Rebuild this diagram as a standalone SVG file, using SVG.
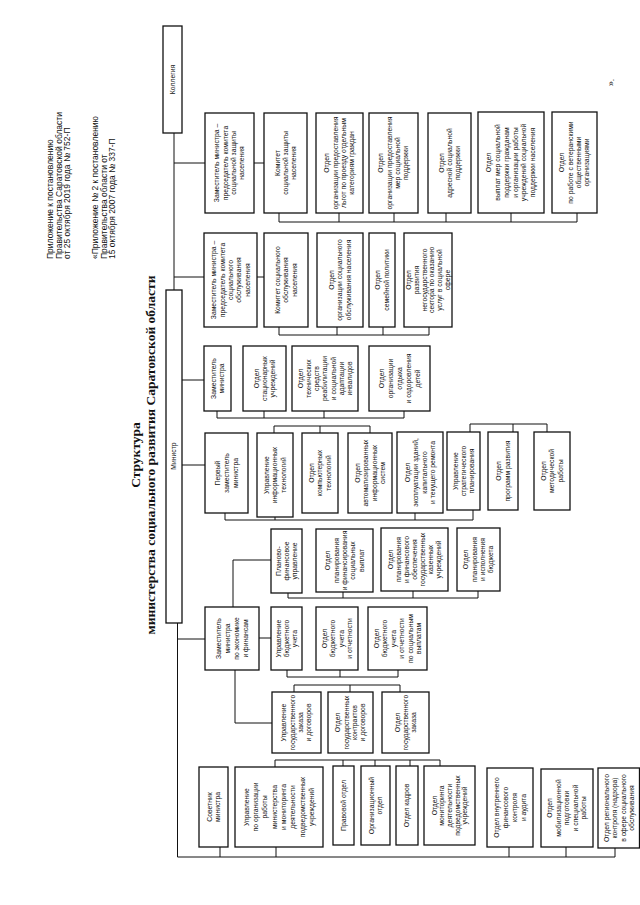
<svg xmlns="http://www.w3.org/2000/svg" width="640" height="905" viewBox="0 0 640 905">
<style>
.bg{fill:#fff}
.box{fill:#fff;stroke:#111;stroke-width:1.3}
.t{font-family:"Liberation Sans",Arial,sans-serif;font-size:6.8px;text-anchor:middle;fill:#111}
.h{font-family:"Liberation Sans",Arial,sans-serif;font-size:8.5px;fill:#111}
.ttl{font-family:"Liberation Serif","Times New Roman",serif;font-size:13.5px;font-weight:bold;text-anchor:middle;fill:#111}
.conn path{fill:none;stroke:#111;stroke-width:1}
</style>
<rect class="bg" x="0" y="0" width="640" height="905"/>

<g id="header">
<text class="h" transform="translate(53,259) rotate(-90)">Приложение к постановлению</text>
<text class="h" transform="translate(61.5,259) rotate(-90)">Правительства Саратовской области</text>
<text class="h" transform="translate(70,259) rotate(-90)">от 25 октября 2019 года № 752-П</text>
<text class="h" transform="translate(98,259) rotate(-90)">«Приложение № 2 к постановлению</text>
<text class="h" transform="translate(106.5,259) rotate(-90)">Правительства области от</text>
<text class="h" transform="translate(115,259) rotate(-90)">15 октября 2007 года № 337-П</text>
<text class="h" transform="translate(614,86) rotate(-90)">».</text>
</g>

<g id="title">
<text class="ttl" transform="translate(139.5,455) rotate(-90)">Структура</text>
<text class="ttl" transform="translate(154.5,455) rotate(-90)">министерства социального развития Саратовской области</text>
</g>

<g class="conn" id="connectors">
<path d="M174,133 V290"/>
<path d="M174,163 H205 M254,163 H264"/>
<path d="M279,213 V222 H577 V213 M339,222 V213 M394,222 V213 M446,222 V213 M511,222 V213"/>
<path d="M174,277 H204 M257,277 H264"/>
<path d="M279,327 V335 H429 V327 M337,335 V327 M383,335 V327"/>
<path d="M182,380 H204"/>
<path d="M217,411 V418 H404 V411 M264,418 V411 M324,418 V411"/>
<path d="M182,465 H205"/>
<path d="M274,433 V426 H370 V433 M320,426 V433"/>
<path d="M225,513 V520 H473 V510 M275,517 V520 M415,520 V513"/>
<path d="M470,432 V424 H547 V432 M513,424 V432"/>
<path d="M177.5,623 V857 H615 V848 M220,857 V847 M276,857 V847 M509,857 V847 M566,857 V847"/>
<path d="M177.5,639 H205 M259,638 H271"/>
<path d="M233,607 V560 H271"/>
<path d="M288,593 V598 H478 V591 M343,598 V592 M413,598 V591"/>
<path d="M287,670 V677 H398 V670 M340,677 V670"/>
<path d="M235,670 V723 H272"/>
<path d="M294,692 V685 H400 V692 M350,685 V692"/>
<path d="M275,767 V760 H440 V766 M343,760 V766 M375,760 V766 M410,760 V766"/>
</g>

<g id="kollegiya"><rect class="box" x="163" y="26" width="19" height="107"/>
<text class="t" transform="translate(172.5,79.5) rotate(-90)"><tspan x="0" y="2.4">Коллегия</tspan></text></g>
<g id="ministr"><rect class="box" x="166" y="290" width="16" height="333"/>
<text class="t" transform="translate(174,456) rotate(-90)"><tspan x="0" y="2.4">Министр</tspan></text></g>

<g id="a1"><rect class="box" x="205" y="113" width="49" height="100"/>
<text class="t" transform="translate(229.5,163) rotate(-90)"><tspan x="0" y="-10.05">Заместитель министра –</tspan><tspan x="0" dy="8.3">председатель комитета</tspan><tspan x="0" dy="8.3">социальной защиты</tspan><tspan x="0" dy="8.3">населения</tspan></text></g>
<g id="a2"><rect class="box" x="264" y="113" width="43" height="100"/>
<text class="t" transform="translate(285.5,163) rotate(-90)"><tspan x="0" y="-5.9">Комитет</tspan><tspan x="0" dy="8.3">социальной защиты</tspan><tspan x="0" dy="8.3">населения</tspan></text></g>
<g id="a3"><rect class="box" x="316" y="113" width="47" height="100"/>
<text class="t" transform="translate(339.5,163) rotate(-90)"><tspan x="0" y="-10.05">Отдел</tspan><tspan x="0" dy="8.3">организации предоставления</tspan><tspan x="0" dy="8.3">льгот по проезду отдельным</tspan><tspan x="0" dy="8.3">категориям граждан</tspan></text></g>
<g id="a4"><rect class="box" x="369" y="113" width="49" height="100"/>
<text class="t" transform="translate(393.5,163) rotate(-90)"><tspan x="0" y="-10.05">Отдел</tspan><tspan x="0" dy="8.3">организации предоставления</tspan><tspan x="0" dy="8.3">мер социальной</tspan><tspan x="0" dy="8.3">поддержки</tspan></text></g>
<g id="a5"><rect class="box" x="428" y="113" width="43" height="100"/>
<text class="t" transform="translate(449.5,163) rotate(-90)"><tspan x="0" y="-5.9">Отдел</tspan><tspan x="0" dy="8.3">адресной социальной</tspan><tspan x="0" dy="8.3">поддержки</tspan></text></g>
<g id="a6"><rect class="box" x="478" y="112" width="66" height="101"/>
<text class="t" transform="translate(511,162.5) rotate(-90)"><tspan x="0" y="-20.1">Отдел</tspan><tspan x="0" dy="8.9">выплат мер социальной</tspan><tspan x="0" dy="8.9">поддержки гражданам</tspan><tspan x="0" dy="8.9">и организации работы</tspan><tspan x="0" dy="8.9">учреждений социальной</tspan><tspan x="0" dy="8.9">поддержки населения</tspan></text></g>
<g id="a7"><rect class="box" x="552" y="112" width="45" height="101"/>
<text class="t" transform="translate(574.5,162.5) rotate(-90)"><tspan x="0" y="-10.05">Отдел</tspan><tspan x="0" dy="8.3">по работе с ветеранскими</tspan><tspan x="0" dy="8.3">общественными</tspan><tspan x="0" dy="8.3">организациями</tspan></text></g>

<g id="b1"><rect class="box" x="204" y="233" width="53" height="94"/>
<text class="t" transform="translate(230.5,280) rotate(-90)"><tspan x="0" y="-14.2">Заместитель министра –</tspan><tspan x="0" dy="8.3">председатель комитета</tspan><tspan x="0" dy="8.3">социального</tspan><tspan x="0" dy="8.3">обслуживания</tspan><tspan x="0" dy="8.3">населения</tspan></text></g>
<g id="b2"><rect class="box" x="264" y="233" width="44" height="94"/>
<text class="t" transform="translate(286,280) rotate(-90)"><tspan x="0" y="-5.9">Комитет социального</tspan><tspan x="0" dy="8.3">обслуживания</tspan><tspan x="0" dy="8.3">населения</tspan></text></g>
<g id="b3"><rect class="box" x="317" y="233" width="46" height="94"/>
<text class="t" transform="translate(340,280) rotate(-90)"><tspan x="0" y="-5.9">Отдел</tspan><tspan x="0" dy="8.3">организации социального</tspan><tspan x="0" dy="8.3">обслуживания населения</tspan></text></g>
<g id="b4"><rect class="box" x="369" y="233" width="26" height="94"/>
<text class="t" transform="translate(382,280) rotate(-90)"><tspan x="0" y="-1.75">Отдел</tspan><tspan x="0" dy="8.3">семейной политики</tspan></text></g>
<g id="b5"><rect class="box" x="404" y="233" width="48" height="94"/>
<text class="t" transform="translate(428,280) rotate(-90)"><tspan x="0" y="-16.85">Отдел</tspan><tspan x="0" dy="7.7">развития</tspan><tspan x="0" dy="7.7">негосударственного</tspan><tspan x="0" dy="7.7">сектора по оказанию</tspan><tspan x="0" dy="7.7">услуг в социальной</tspan><tspan x="0" dy="7.7">сфере</tspan></text></g>

<g id="c1"><rect class="box" x="204" y="346" width="27" height="65"/>
<text class="t" transform="translate(217.5,378.5) rotate(-90)"><tspan x="0" y="-1.75">Заместитель</tspan><tspan x="0" dy="8.3">министра</tspan></text></g>
<g id="c2"><rect class="box" x="243" y="346" width="43" height="65"/>
<text class="t" transform="translate(264.5,378.5) rotate(-90)"><tspan x="0" y="-5.9">Отдел</tspan><tspan x="0" dy="8.3">стационарных</tspan><tspan x="0" dy="8.3">учреждений</tspan></text></g>
<g id="c3"><rect class="box" x="292" y="346" width="66" height="65"/>
<text class="t" transform="translate(325,378.5) rotate(-90)"><tspan x="0" y="-22.5">Отдел</tspan><tspan x="0" dy="8.3">технических</tspan><tspan x="0" dy="8.3">средств</tspan><tspan x="0" dy="8.3">реабилитации</tspan><tspan x="0" dy="8.3">и социальной</tspan><tspan x="0" dy="8.3">адаптации</tspan><tspan x="0" dy="8.3">инвалидов</tspan></text></g>
<g id="c4"><rect class="box" x="369" y="346" width="61" height="65"/>
<text class="t" transform="translate(399.5,378.5) rotate(-90)"><tspan x="0" y="-15.6">Отдел</tspan><tspan x="0" dy="9">организации</tspan><tspan x="0" dy="9">отдыха</tspan><tspan x="0" dy="9">и оздоровления</tspan><tspan x="0" dy="9">детей</tspan></text></g>

<g id="d1"><rect class="box" x="205" y="433" width="43" height="80"/>
<text class="t" transform="translate(226.5,473) rotate(-90)"><tspan x="0" y="-6.6">Первый</tspan><tspan x="0" dy="9">заместитель</tspan><tspan x="0" dy="9">министра</tspan></text></g>
<g id="d2"><rect class="box" x="257" y="433" width="36" height="84"/>
<text class="t" transform="translate(275,475) rotate(-90)"><tspan x="0" y="-5.9">Управление</tspan><tspan x="0" dy="8.3">информационных</tspan><tspan x="0" dy="8.3">технологий</tspan></text></g>
<g id="d3"><rect class="box" x="302" y="433" width="36" height="80"/>
<text class="t" transform="translate(320,473) rotate(-90)"><tspan x="0" y="-5.9">Отдел</tspan><tspan x="0" dy="8.3">компьютерных</tspan><tspan x="0" dy="8.3">технологий</tspan></text></g>
<g id="d4"><rect class="box" x="348" y="433" width="44" height="80"/>
<text class="t" transform="translate(370,473) rotate(-90)"><tspan x="0" y="-10.05">Отдел</tspan><tspan x="0" dy="8.3">автоматизированных</tspan><tspan x="0" dy="8.3">информационных</tspan><tspan x="0" dy="8.3">систем</tspan></text></g>
<g id="d5"><rect class="box" x="397" y="432" width="46" height="81"/>
<text class="t" transform="translate(420,472.5) rotate(-90)"><tspan x="0" y="-10.05">Отдел</tspan><tspan x="0" dy="8.3">эксплуатации зданий,</tspan><tspan x="0" dy="8.3">капитального</tspan><tspan x="0" dy="8.3">и текущего ремонта</tspan></text></g>
<g id="d6"><rect class="box" x="447" y="432" width="33" height="78"/>
<text class="t" transform="translate(463.5,471) rotate(-90)"><tspan x="0" y="-5.9">Управление</tspan><tspan x="0" dy="8.3">стратегического</tspan><tspan x="0" dy="8.3">планирования</tspan></text></g>
<g id="d7"><rect class="box" x="488" y="432" width="30" height="78"/>
<text class="t" transform="translate(503,471) rotate(-90)"><tspan x="0" y="-1.75">Отдел</tspan><tspan x="0" dy="8.3">программ развития</tspan></text></g>
<g id="d8"><rect class="box" x="534" y="432" width="36" height="78"/>
<text class="t" transform="translate(552,471) rotate(-90)"><tspan x="0" y="-5.9">Отдел</tspan><tspan x="0" dy="8.3">методической</tspan><tspan x="0" dy="8.3">работы</tspan></text></g>

<g id="e1"><rect class="box" x="271" y="529" width="31" height="64"/>
<text class="t" transform="translate(286.5,561) rotate(-90)"><tspan x="0" y="-5.9">Планово-</tspan><tspan x="0" dy="8.3">финансовое</tspan><tspan x="0" dy="8.3">управление</tspan></text></g>
<g id="e2"><rect class="box" x="316" y="529" width="57" height="63"/>
<text class="t" transform="translate(344.5,560.5) rotate(-90)"><tspan x="0" y="-14.2">Отдел</tspan><tspan x="0" dy="8.3">планирования</tspan><tspan x="0" dy="8.3">и финансирования</tspan><tspan x="0" dy="8.3">социальных</tspan><tspan x="0" dy="8.3">выплат</tspan></text></g>
<g id="e3"><rect class="box" x="381" y="528" width="67" height="63"/>
<text class="t" transform="translate(414.5,559.5) rotate(-90)"><tspan x="0" y="-21.6">Отдел</tspan><tspan x="0" dy="8">планирования</tspan><tspan x="0" dy="8">и финансового</tspan><tspan x="0" dy="8">обеспечения</tspan><tspan x="0" dy="8">государственных</tspan><tspan x="0" dy="8">казенных</tspan><tspan x="0" dy="8">учреждений</tspan></text></g>
<g id="e4"><rect class="box" x="457" y="528" width="43" height="63"/>
<text class="t" transform="translate(478.5,559.5) rotate(-90)"><tspan x="0" y="-10.05">Отдел</tspan><tspan x="0" dy="8.3">планирования</tspan><tspan x="0" dy="8.3">и исполнения</tspan><tspan x="0" dy="8.3">бюджета</tspan></text></g>

<g id="f1"><rect class="box" x="205" y="607" width="54" height="63"/>
<text class="t" transform="translate(232,638.5) rotate(-90)"><tspan x="0" y="-11.1">Заместитель</tspan><tspan x="0" dy="9">министра</tspan><tspan x="0" dy="9">по экономике</tspan><tspan x="0" dy="9">и финансам</tspan></text></g>
<g id="f2"><rect class="box" x="271" y="607" width="31" height="63"/>
<text class="t" transform="translate(286.5,638.5) rotate(-90)"><tspan x="0" y="-5.9">Управление</tspan><tspan x="0" dy="8.3">бюджетного</tspan><tspan x="0" dy="8.3">учета</tspan></text></g>
<g id="f3"><rect class="box" x="316" y="607" width="42" height="63"/>
<text class="t" transform="translate(337,638.5) rotate(-90)"><tspan x="0" y="-10.05">Отдел</tspan><tspan x="0" dy="8.3">бюджетного</tspan><tspan x="0" dy="8.3">учета</tspan><tspan x="0" dy="8.3">и отчетности</tspan></text></g>
<g id="f4"><rect class="box" x="368" y="607" width="59" height="63"/>
<text class="t" transform="translate(397.5,638.5) rotate(-90)"><tspan x="0" y="-18.85">Отдел</tspan><tspan x="0" dy="8.5">бюджетного</tspan><tspan x="0" dy="8.5">учета</tspan><tspan x="0" dy="8.5">и отчетности</tspan><tspan x="0" dy="8.5">по социальным</tspan><tspan x="0" dy="8.5">выплатам</tspan></text></g>

<g id="g1"><rect class="box" x="272" y="692" width="49" height="61"/>
<text class="t" transform="translate(296.5,722.5) rotate(-90)"><tspan x="0" y="-10.05">Управление</tspan><tspan x="0" dy="8.3">государственного</tspan><tspan x="0" dy="8.3">заказа</tspan><tspan x="0" dy="8.3">и договоров</tspan></text></g>
<g id="g2"><rect class="box" x="328" y="692" width="45" height="61"/>
<text class="t" transform="translate(350.5,722.5) rotate(-90)"><tspan x="0" y="-10.05">Отдел</tspan><tspan x="0" dy="8.3">государственных</tspan><tspan x="0" dy="8.3">контрактов</tspan><tspan x="0" dy="8.3">и договоров</tspan></text></g>
<g id="g3"><rect class="box" x="382" y="692" width="47" height="61"/>
<text class="t" transform="translate(405.5,722.5) rotate(-90)"><tspan x="0" y="-5.9">Отдел</tspan><tspan x="0" dy="8.3">государственного</tspan><tspan x="0" dy="8.3">заказа</tspan></text></g>

<g id="h1"><rect class="box" x="199" y="767" width="29" height="80"/>
<text class="t" transform="translate(213.5,807) rotate(-90)"><tspan x="0" y="-1.75">Советник</tspan><tspan x="0" dy="8.3">министра</tspan></text></g>
<g id="h2"><rect class="box" x="235" y="767" width="88" height="80"/>
<text class="t" transform="translate(279,807) rotate(-90)"><tspan x="0" y="-30.15">Управление</tspan><tspan x="0" dy="9.3">по организации</tspan><tspan x="0" dy="9.3">работы</tspan><tspan x="0" dy="9.3">министерства</tspan><tspan x="0" dy="9.3">и мониторинга</tspan><tspan x="0" dy="9.3">деятельности</tspan><tspan x="0" dy="9.3">подведомственных</tspan><tspan x="0" dy="9.3">учреждений</tspan></text></g>
<g id="h3"><rect class="box" x="333" y="766" width="21" height="79"/>
<text class="t" transform="translate(343.5,805.5) rotate(-90)"><tspan x="0" y="2.4">Правовой отдел</tspan></text></g>
<g id="h4"><rect class="box" x="361" y="766" width="29" height="79"/>
<text class="t" transform="translate(375.5,805.5) rotate(-90)"><tspan x="0" y="-1.75">Организационный</tspan><tspan x="0" dy="8.3">отдел</tspan></text></g>
<g id="h5"><rect class="box" x="396" y="766" width="22" height="79"/>
<text class="t" transform="translate(407,805.5) rotate(-90)"><tspan x="0" y="2.4">Отдел кадров</tspan></text></g>
<g id="h6"><rect class="box" x="424" y="766" width="51" height="79"/>
<text class="t" transform="translate(449.5,805.5) rotate(-90)"><tspan x="0" y="-13">Отдел</tspan><tspan x="0" dy="7.7">мониторинга</tspan><tspan x="0" dy="7.7">деятельности</tspan><tspan x="0" dy="7.7">подведомственных</tspan><tspan x="0" dy="7.7">учреждений</tspan></text></g>
<g id="h7"><rect class="box" x="487" y="768" width="46" height="79"/>
<text class="t" transform="translate(510,807.5) rotate(-90)"><tspan x="0" y="-11.1">Отдел внутреннего</tspan><tspan x="0" dy="9">финансового</tspan><tspan x="0" dy="9">контроля</tspan><tspan x="0" dy="9">и аудита</tspan></text></g>
<g id="h8"><rect class="box" x="541" y="769" width="52" height="78"/>
<text class="t" transform="translate(567,808) rotate(-90)"><tspan x="0" y="-14.6">Отдел</tspan><tspan x="0" dy="8.5">мобилизационной</tspan><tspan x="0" dy="8.5">подготовки</tspan><tspan x="0" dy="8.5">и специальной</tspan><tspan x="0" dy="8.5">работы</tspan></text></g>
<g id="h9"><rect class="box" x="598" y="768" width="41.5" height="80"/>
<text class="t" transform="translate(619,808) rotate(-90)"><tspan x="0" y="-10.05">Отдел регионального</tspan><tspan x="0" dy="8.3">контроля (надзора)</tspan><tspan x="0" dy="8.3">в сфере социального</tspan><tspan x="0" dy="8.3">обслуживания</tspan></text></g>
</svg>
